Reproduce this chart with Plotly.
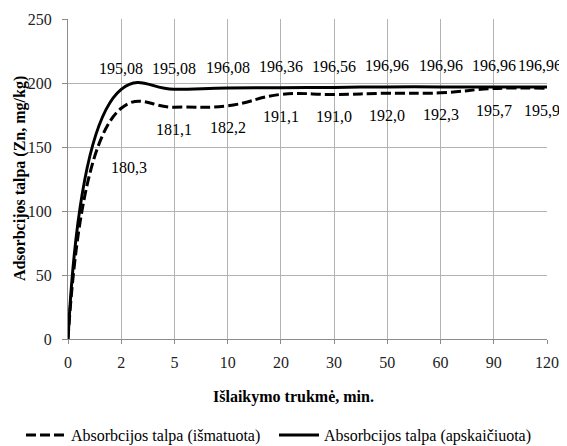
import plotly.graph_objects as go

# Data
time_labels = ["0", "2", "5", "10", "20", "30", "50", "60", "90", "120"]
measured = [0, 180.3, 181.1, 182.2, 191.1, 191.0, 192.0, 192.3, 195.7, 195.9]
computed = [0, 195.08, 195.08, 196.08, 196.36, 196.56, 196.96, 196.96, 196.96, 196.96]
measured_text = ["", "180,3", "181,1", "182,2", "191,1", "191,0", "192,0", "192,3", "195,7", "195,9"]
computed_text = ["", "195,08", "195,08", "196,08", "196,36", "196,56", "196,96", "196,96", "196,96", "196,96"]
series_names = ["Absorbcijos talpa (išmatuota)", "Absorbcijos talpa (apskaičiuota)"]

FONT = "Liberation Serif"
xs = list(range(len(time_labels)))
last = len(xs) - 1

# the page body has an 8px margin, so the figure is drawn 8px smaller
W, H = 559, 438
ML, MR, MT, MB = 60, 20, 11, 107
PW = W - ML - MR

fig = go.Figure()
fig.add_trace(go.Scatter(
    x=xs, y=measured, name=series_names[0], mode="lines", legend="legend",
    line=dict(color="black", width=3, dash="10px,4px", shape="spline", smoothing=1.3),
))
fig.add_trace(go.Scatter(
    x=xs, y=computed, name=series_names[1], mode="lines", legend="legend2",
    line=dict(color="black", width=3, shape="spline", smoothing=1.3),
))

lab_font = dict(family=FONT, size=16, color="black")
annotations = []
for i, (v, t) in enumerate(zip(computed, computed_text)):
    if t:
        annotations.append(dict(x=xs[i], y=v, xref="x", yref="y", text=t, showarrow=False,
                                yshift=21, xshift=(-7 if i == last else 0),
                                yanchor="middle", xanchor="center", font=lab_font))
for i, (v, t) in enumerate(zip(measured, measured_text)):
    if t:
        if i == 1:
            annotations.append(dict(x=xs[i], y=v, xref="x", yref="y", text=t, showarrow=False,
                                    xshift=8, yshift=-59, yanchor="middle", xanchor="center",
                                    font=lab_font))
        else:
            annotations.append(dict(x=xs[i], y=v, xref="x", yref="y", text=t, showarrow=False,
                                    yshift=-22, xshift=(-5 if i == last else 0),
                                    yanchor="middle", xanchor="center", font=lab_font))

annotations.append(dict(x=0.47, y=-0.181, xref="paper", yref="paper",
                        text="<b>Išlaikymo trukmė, min.</b>", showarrow=False,
                        xanchor="center", yanchor="middle", font=lab_font))
annotations.append(dict(x=-0.1, y=0.5, xref="paper", yref="paper",
                        text="<b>Adsorbcijos talpa (Zn, mg/kg)</b>", showarrow=False,
                        textangle=-90, xanchor="center", yanchor="middle", font=lab_font))

legend_common = dict(orientation="h", xref="paper", xanchor="left", y=-0.30, yanchor="middle",
                     font=dict(family=FONT, size=16, color="black"), itemwidth=40,
                     bgcolor="rgba(0,0,0,0)", tracegroupgap=0)

fig.update_layout(
    width=W, height=H,
    margin=dict(l=ML, r=MR, t=MT, b=MB, autoexpand=False),
    paper_bgcolor="white", plot_bgcolor="white",
    font=dict(family=FONT, size=16, color="black"),
    showlegend=True,
    legend=dict(x=(13 - ML) / PW, **legend_common),
    legend2=dict(x=(266 - ML) / PW, **legend_common),
    annotations=annotations,
)
fig.update_xaxes(
    range=[0, last], tickmode="array", tickvals=xs, ticktext=time_labels,
    showgrid=True, gridcolor="#b3b3b3", gridwidth=1,
    showline=True, linecolor="#8c8c8c", linewidth=1,
    ticks="outside", ticklen=4, tickcolor="#8c8c8c", ticklabelstandoff=5,
    zeroline=False, tickfont=dict(family=FONT, size=16, color="#222"),
)
fig.update_yaxes(
    range=[0, 250], dtick=50, tick0=0,
    showgrid=True, gridcolor="#b3b3b3", gridwidth=1,
    showline=True, linecolor="#8c8c8c", linewidth=1,
    ticks="outside", ticklen=5, tickcolor="#8c8c8c", ticklabelstandoff=7,
    zeroline=False, tickfont=dict(family=FONT, size=16, color="#222"),
)

fig.write_html("out.html")
